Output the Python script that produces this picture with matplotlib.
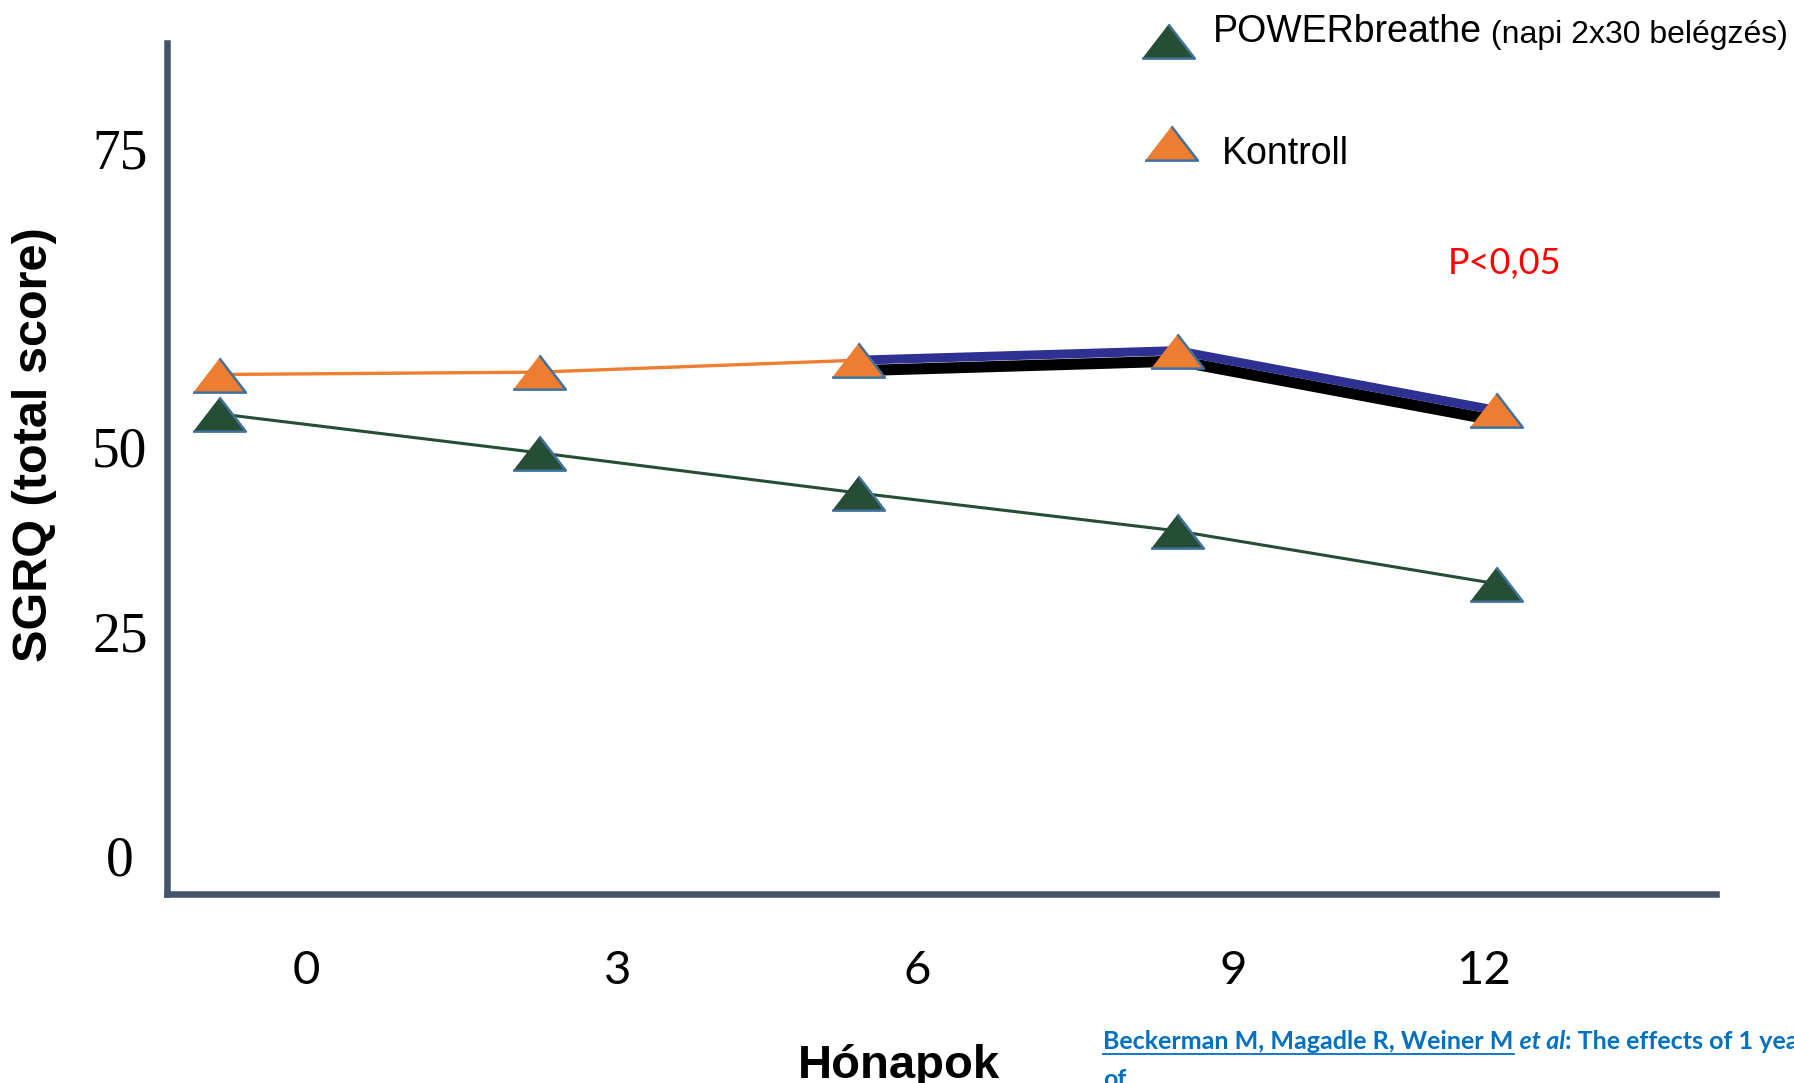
import numpy as np
import matplotlib
matplotlib.use('Agg')
import matplotlib.pyplot as plt
import matplotlib.patheffects as pe
from matplotlib.lines import Line2D

# values (SGRQ total score)
months = [0, 3, 6, 9, 12]
powerbreathe = [52.7, 49.1, 43.7, 38.6, 31.5]
kontroll = [56.0, 56.2, 57.2, 58.0, 53.0]
highlight_months = [6, 9, 12]
y_ticks = [0, 25, 50, 75]
x_tick_labels = ['0', '3', '6', '9', '12']

# layout: the slide puts its y labels at uneven heights -> piecewise scale
tick_frac = [0.0447, 0.3079, 0.5264, 0.8766]
x_label_pos = [0.82, 3.74, 6.56, 9.53, 11.89]

green = '#264D35'
orange = '#ED7D31'
edge = '#41719C'
axis_col = '#44546A'
tri = [(-0.77, -0.5), (0.77, -0.5), (0, 0.5)]

lo_slope = (tick_frac[1] - tick_frac[0]) / 25
hi_slope = (tick_frac[3] - tick_frac[2]) / 25
vals_ext = [-100] + y_ticks + [200]
frac_ext = [tick_frac[0] - 100 * lo_slope] + tick_frac + [tick_frac[3] + 125 * hi_slope]


def fwd(v):
    return np.interp(v, vals_ext, frac_ext)


def inv(f):
    return np.interp(f, frac_ext, vals_ext)


fig = plt.figure(figsize=(17.94, 10.83), dpi=100)
ax = fig.add_axes([0.0931, 0.1745, 0.8634, 0.7858])
ax.set_yscale('function', functions=(fwd, inv))

ax.plot(months, kontroll, color=orange, lw=2.4, zorder=2)
ax.plot(months, powerbreathe, color=green, lw=2.2, zorder=2)
hl = [kontroll[months.index(m)] for m in highlight_months]
ax.plot(highlight_months, hl, color='#2E3192', lw=6.5, solid_capstyle='butt', zorder=3,
        path_effects=[pe.SimpleLineShadow(offset=(1, -7.5), shadow_color='black', alpha=1, linewidth=8),
                      pe.Normal()])
ax.plot(months, kontroll, ls='none', marker=tri, ms=38, mfc=orange, mec=edge, mew=1.8, zorder=4, clip_on=False)
ax.plot(months, powerbreathe, ls='none', marker=tri, ms=38, mfc=green, mec=edge, mew=1.8, zorder=4, clip_on=False)

ax.set_xlim(-0.493, 14.07)
ax.set_ylim(inv(0), inv(1))

for s in ['top', 'right']:
    ax.spines[s].set_visible(False)
for s in ['left', 'bottom']:
    ax.spines[s].set_linewidth(4.7)
    ax.spines[s].set_color(axis_col)

ax.set_yticks(y_ticks, [str(t) for t in y_ticks])
ax.tick_params(axis='y', length=0, pad=34, labelsize=40)
for lab in ax.get_yticklabels():
    lab.set_family('Liberation Serif')
    lab.set_ha('center')
ax.set_xticks(x_label_pos, x_tick_labels)
ax.tick_params(axis='x', length=0, pad=40, labelsize=34)
for lab in ax.get_xticklabels():
    lab.set_family('Lato')

fig.text(0.019, 0.589, 'SGRQ (total score)', rotation=90, fontsize=35, fontweight='bold',
         family='Liberation Sans', ha='center', va='center')
fig.text(0.501, 0.0049, 'Hónapok', fontsize=34, fontweight='bold', family='Liberation Sans',
         ha='center', va='baseline')
fig.text(0.807, 0.757, 'P<0,05', fontsize=26, color='#FF0000', family='Lato', ha='left', va='center')

# legend keys
fig.add_artist(Line2D([0.651], [0.962], marker=tri, ms=38, mfc=green, mec=edge, mew=1.8,
                      ls='none', transform=fig.transFigure))
fig.add_artist(Line2D([0.653], [0.868], marker=tri, ms=38, mfc=orange, mec=edge, mew=1.8,
                      ls='none', transform=fig.transFigure))
t_pb = fig.text(0.676, 0.961, 'POWERbreathe', fontsize=27, family='Liberation Sans', va='baseline')
ax.annotate(' (napi 2x30 belégzés)', xy=(1, 0), xycoords=t_pb, fontsize=23,
            family='Liberation Sans', va='bottom', ha='left', annotation_clip=False)
fig.text(0.681, 0.849, 'Kontroll', fontsize=27, family='Liberation Sans', va='baseline')

# citation
cite_col = '#0070C0'
t1 = fig.text(0.615, 0.0314, 'Beckerman M, Magadle R, Weiner M', fontsize=18, fontweight='bold',
              family='Lato', color=cite_col, va='baseline')
t2 = ax.annotate(' et al', xy=(1, 0), xycoords=t1, fontsize=18, fontweight='bold', style='italic',
                 family='Lato', color=cite_col, va='bottom', ha='left', annotation_clip=False)
ax.annotate(': The effects of 1 year', xy=(1, 0), xycoords=t2, fontsize=18, fontweight='bold',
            family='Lato', color=cite_col, va='bottom', ha='left', annotation_clip=False)
fig.text(0.615, -0.004, 'of', fontsize=18, fontweight='bold', family='Lato', color=cite_col,
         va='baseline')

r = fig.canvas.get_renderer()
bb = t1.get_window_extent(r).transformed(fig.transFigure.inverted())
fig.add_artist(Line2D([bb.x0, bb.x1], [0.0268, 0.0268], color=cite_col, lw=1.3,
                      transform=fig.transFigure))

fig.savefig('out.png', dpi=100)
